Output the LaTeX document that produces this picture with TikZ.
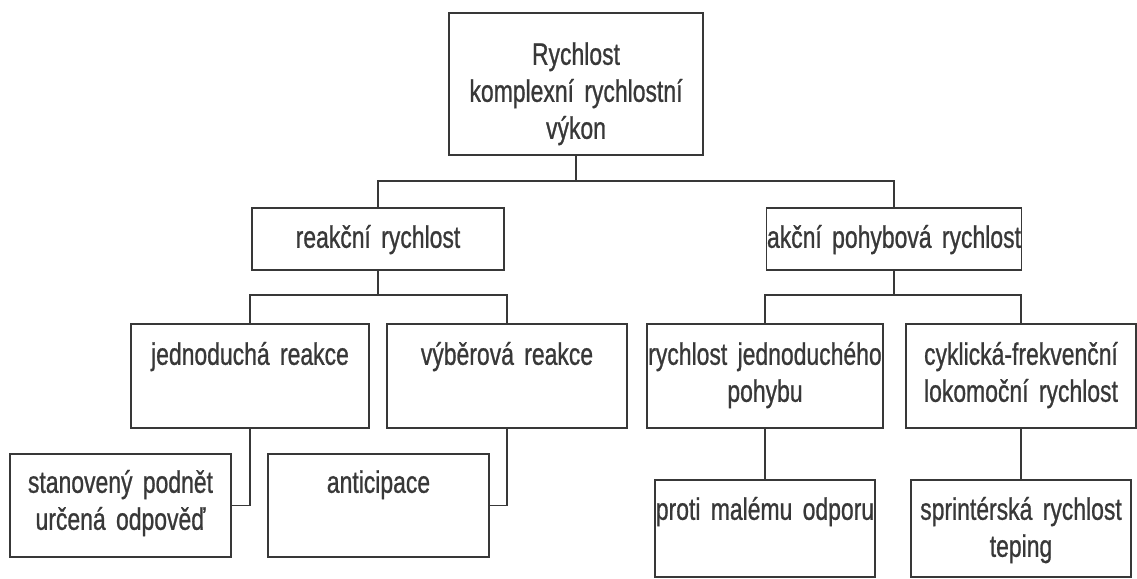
\documentclass[tikz,border=0pt]{standalone}
\usepackage{fontspec}
\setmainfont{Liberation Sans}[FakeStretch=0.74, FakeBold=0.8]
\definecolor{ink}{HTML}{383838}
\newcommand{\boxfont}{\fontsize{31}{37}\selectfont\fontdimen2\font=4.5pt\fontdimen3\font=0pt\relax}

\begin{document}
\begin{tikzpicture}[x=1pt, y=-1pt, line width=1.6pt, color=ink,
    box/.style={draw, font=\boxfont, inner sep=0pt, align=center, anchor=north, text width=#1}]

        % Page size of the scan
        \useasboundingbox (0,0) rectangle (1137,578);

        % --- Top: the whole quality ---
        \node[box=254pt, text height=52pt, text depth=90pt] (root) at (576,12)
            {Rychlost\\komplexní rychlostní\\výkon};

        % --- Level 2: reaction vs. action ---
        \node[box=252pt, text height=40pt, text depth=22pt] (reak) at (378,207) {reakční rychlost};
        \node[box=255pt, text height=40pt, text depth=22pt] (akce) at (894,207) {akční pohybová rychlost};

        % --- Level 3 ---
        \node[box=238pt, text height=41pt, text depth=63pt] (jedn) at (250,323) {jednoduchá reakce};
        \node[box=240pt, text height=41pt, text depth=63pt] (vyber) at (507,323) {výběrová reakce};
        \node[box=236pt, text height=41pt, text depth=63pt] (pohyb) at (765,323) {rychlost jednoduchého\\pohybu};
        \node[box=230pt, text height=41pt, text depth=63pt] (cykl) at (1021,323) {cyklická-frekvenční\\lokomoční rychlost};

        % --- Level 4 ---
        \node[box=221pt, text height=39pt, text depth=64pt] (stan) at (120.5,453) {stanovený podnět\\určená odpověď};
        \node[box=221pt, text height=39pt, text depth=64pt] (anti) at (378.5,453) {anticipace};
        \node[box=220pt, text height=40pt, text depth=57pt] (proti) at (765,479) {proti malému odporu};
        \node[box=220pt, text height=40pt, text depth=57pt] (sprint) at (1021,479) {sprintérská rychlost\\teping};

        % Bars between the levels
        \coordinate (b1) at (576,181);
        \coordinate (b2) at (378,295);
        \coordinate (b3) at (894,295);

        \draw (root.south) -- (b1);
        \draw (reak.north) |- (b1) -| (akce.north);

        \draw (reak.south) -- (b2);
        \draw (jedn.north) |- (b2) -| (vyber.north);
        \draw (akce.south) -- (b3);
        \draw (pohyb.north) |- (b3) -| (cykl.north);

        % Side hooks into the lower boxes
        \draw (jedn.south) |- (stan.east);
        \draw (vyber.south) |- (anti.east);
        \draw (pohyb.south) -- (proti.north);
        \draw (cykl.south) -- (sprint.north);

\end{tikzpicture}
\end{document}
